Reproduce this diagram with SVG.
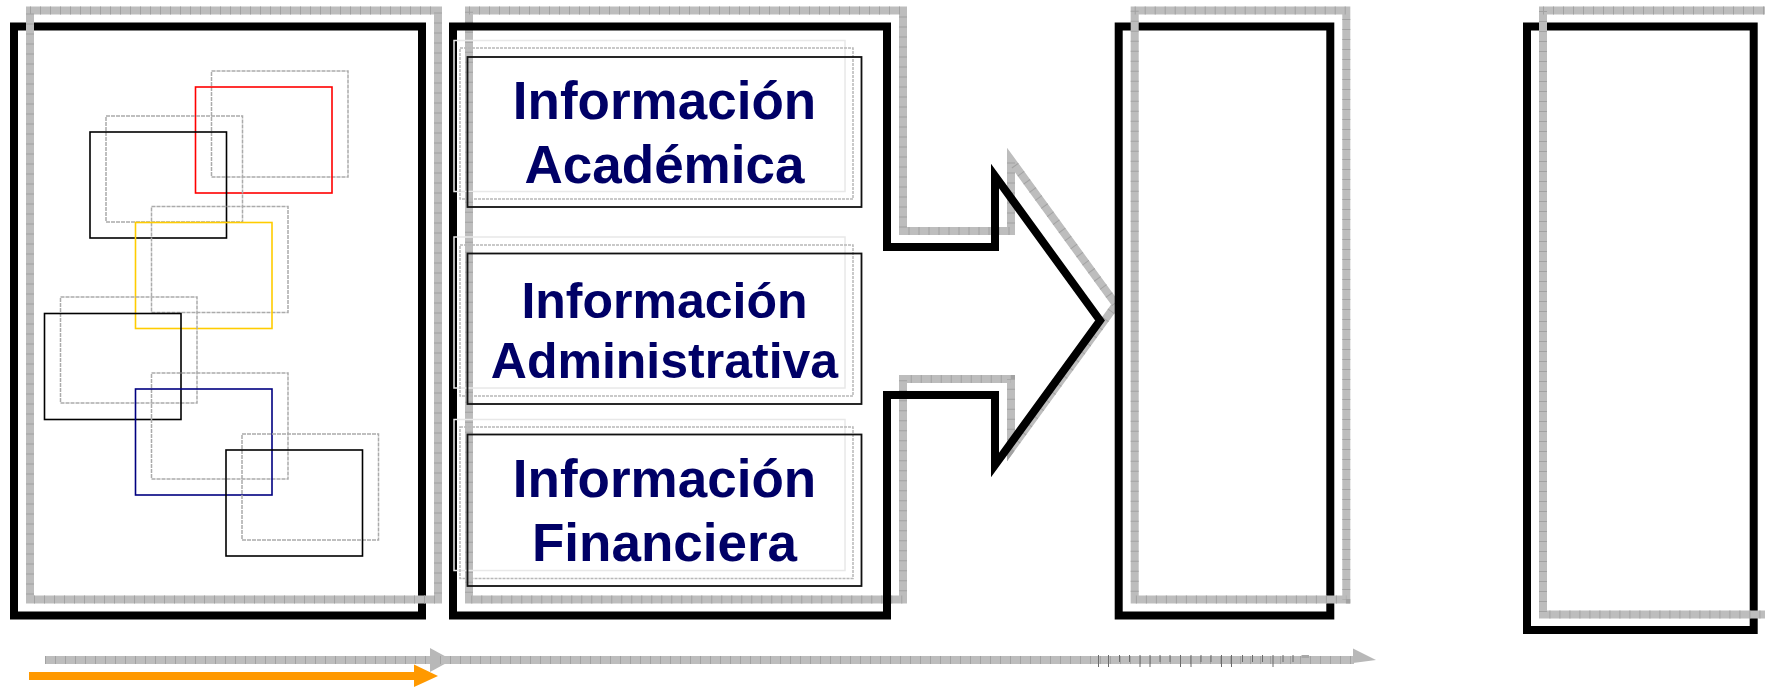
<svg xmlns="http://www.w3.org/2000/svg" width="1765" height="687" viewBox="0 0 1765 687">
<style>
.blk{fill:none;stroke:#000;stroke-width:8;stroke-linejoin:miter}
.band{fill:none;stroke:#bdbdbd;stroke-width:8;stroke-linejoin:miter}
.tick{fill:none;stroke:#a2a2a2;stroke-width:8;stroke-dasharray:1 9}
.sh{fill:none;stroke:#ababab;stroke-width:1.5;stroke-dasharray:4 1}
.thin{fill:none;stroke-width:1.6}
.tb{fill:none;stroke:#111;stroke-width:1.8}
.tbg{fill:none;stroke:#b8b8b8;stroke-width:1.5;stroke-dasharray:3 1}
.tbf{fill:none;stroke:#e8e8e8;stroke-width:1.5}
.lbl{font-family:"Liberation Sans",Arial,sans-serif;font-weight:bold;fill:#000066;text-anchor:middle}
</style>
<rect width="1765" height="687" fill="#fff"/>

<g id="box1">
  <rect class="blk" x="14" y="26.5" width="408" height="589"/>
  <rect class="band" x="30" y="10.5" width="408" height="589"/>
  <rect class="tick" x="30" y="10.5" width="408" height="589"/>
  <rect class="sh" x="211.5" y="71" width="136.5" height="106"/>
  <rect class="thin" stroke="#ff0000" x="195.5" y="87" width="136.5" height="106"/>
  <rect class="sh" x="106" y="116" width="136.5" height="106"/>
  <rect class="thin" stroke="#000" x="90" y="132" width="136.5" height="106"/>
  <rect class="sh" x="151.5" y="206.5" width="136.5" height="106"/>
  <rect class="thin" stroke="#ffcc00" x="135.5" y="222.5" width="136.5" height="106"/>
  <rect class="sh" x="60.5" y="297" width="136.5" height="106"/>
  <rect class="thin" stroke="#000" x="44.5" y="313.5" width="136.5" height="106"/>
  <rect class="sh" x="151.5" y="373" width="136.5" height="106"/>
  <rect class="thin" stroke="#000080" x="135.5" y="389" width="136.5" height="106"/>
  <rect class="sh" x="242" y="434" width="136.5" height="106"/>
  <rect class="thin" stroke="#000" x="226" y="450" width="136.5" height="106"/>
</g>

<g id="box2">
  <polygon class="band" points="469,10.5 903,10.5 903,231 1011,231 1011,160 1116,304.5 1011,449 1011,379 903,379 903,599.5 469,599.5"/>
  <polygon class="tick" points="469,10.5 903,10.5 903,231 1011,231 1011,160 1116,304.5 1011,449 1011,379 903,379 903,599.5 469,599.5"/>
  <polygon class="blk" points="453,26.5 887,26.5 887,247 995,247 995,176 1100,320.5 995,465 995,395 887,395 887,615.5 453,615.5"/>
</g>

<g id="infoAcademica">
  <rect class="tbf" x="454" y="40.5" width="391" height="151"/>
  <rect class="tbg" x="460" y="48" width="393" height="151"/>
  <rect class="tb" x="467.5" y="57" width="394" height="150"/>
  <text class="lbl" x="664.5" y="119.3" font-size="53">Información</text>
  <text class="lbl" x="664.5" y="183.3" font-size="53">Académica</text>
</g>

<g id="infoAdministrativa">
  <rect class="tbf" x="454" y="237" width="391" height="151"/>
  <rect class="tbg" x="460" y="245" width="393" height="151"/>
  <rect class="tb" x="467.5" y="253.5" width="394" height="150.5"/>
  <text class="lbl" x="664.5" y="318.3" font-size="50">Información</text>
  <text class="lbl" x="664.5" y="378.3" font-size="50">Administrativa</text>
</g>

<g id="infoFinanciera">
  <rect class="tbf" x="454" y="419.5" width="391" height="151"/>
  <rect class="tbg" x="460" y="427" width="393" height="151.5"/>
  <rect class="tb" x="467.5" y="434.5" width="394" height="151.5"/>
  <text class="lbl" x="664.5" y="496.7" font-size="53">Información</text>
  <text class="lbl" x="664.5" y="560.7" font-size="53">Financiera</text>
</g>

<g id="box3">
  <rect class="blk" x="1118.7" y="26.5" width="211.6" height="589"/>
  <rect class="band" x="1134.7" y="10.5" width="211.6" height="589"/>
  <rect class="tick" x="1134.7" y="10.5" width="211.6" height="589"/>
</g>

<g id="box4">
  <rect class="blk" x="1527" y="26.5" width="226.7" height="603.5"/>
  <rect class="band" x="1543" y="10.5" width="226.7" height="604"/>
  <rect class="tick" x="1543" y="10.5" width="226.7" height="604"/>
</g>

<g id="connectors">
  <line class="band" x1="45" y1="660" x2="431" y2="660"/>
  <line class="tick" x1="45" y1="660" x2="431" y2="660"/>
  <polygon points="430,648 452,660 430,672" fill="#b8b8b8"/>
  <line class="band" x1="440" y1="660" x2="1354" y2="660"/>
  <line class="tick" x1="440" y1="660" x2="1354" y2="660"/>
  <polygon points="1353,648.5 1376,660 1353,663" fill="#b8b8b8"/>
  <rect x="1301.5" y="655" width="7.5" height="3" fill="#a8a8a8"/>
  <path fill="none" stroke="#6a6a6a" stroke-width="1" d="M1098.5,655V667 M1108.5,655V667 M1119.5,655V662 M1129.5,655V662 M1140,655V667 M1150,655V667 M1160,655V662 M1170,655V662 M1180.5,655V667 M1191,655V667 M1201,655V662 M1211,655V662 M1221.5,655V667 M1231.5,655V667 M1242.5,655V662 M1252.5,655V662 M1262.5,655V662 M1273,655V667 M1283,655V662 M1293,655V662"/>
  <line x1="29" y1="676" x2="416" y2="676" stroke="#ff9900" stroke-width="8"/>
  <polygon points="414,664.5 438,676 414,687" fill="#ff9900"/>
</g>
</svg>
